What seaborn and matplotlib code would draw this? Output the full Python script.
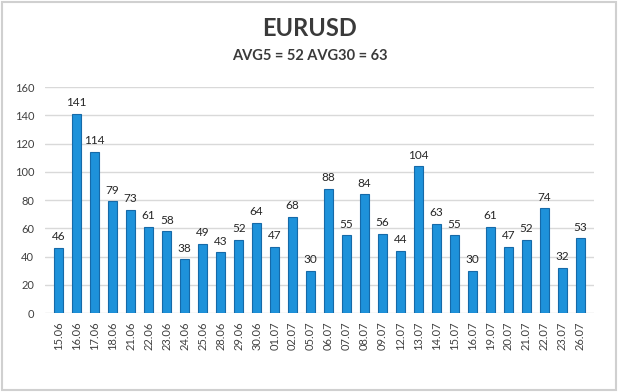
import matplotlib
matplotlib.use("Agg")
import matplotlib.pyplot as plt
import seaborn as sns
import pandas as pd
from matplotlib.patches import Rectangle

dates = ["15.06", "16.06", "17.06", "18.06", "21.06", "22.06", "23.06", "24.06", "25.06", "28.06",
         "29.06", "30.06", "01.07", "02.07", "05.07", "06.07", "07.07", "08.07", "09.07", "12.07",
         "13.07", "14.07", "15.07", "16.07", "19.07", "20.07", "21.07", "22.07", "23.07", "26.07"]
values = [46, 141, 114, 79, 73, 61, 58, 38, 49, 43,
          52, 64, 47, 68, 30, 88, 55, 84, 56, 44,
          104, 63, 55, 30, 61, 47, 52, 74, 32, 53]
title = "EURUSD"
subtitle = "AVG5 = 52 AVG30 = 63"
yticks = [0, 20, 40, 60, 80, 100, 120, 140, 160]

sns.set_theme(style="white")
plt.rcParams['font.family'] = ['Lato', 'DejaVu Sans']

df = pd.DataFrame({"date": dates, "value": values})
txt = "#404040"

fig = plt.figure(figsize=(6.2, 3.92), dpi=100)
ax = fig.add_axes([0.073, 0.2015, 0.885, 0.5765])
sns.barplot(data=df, x="date", y="value", ax=ax, color="#1E92DA", width=0.5,
            edgecolor="#166AA8", linewidth=0.8, saturation=1)
ax.set_ylim(0, 160)
ax.set_xlim(-0.75, len(dates) - 0.25)
ax.set_yticks(yticks)
ax.yaxis.grid(True, color="#D9D9D9", linewidth=1)
ax.set_axisbelow(True)
for s in ax.spines.values():
    s.set_visible(False)
ax.set_xlabel("")
ax.set_ylabel("")
ax.tick_params(axis="y", labelsize=8, colors=txt, length=0, pad=8)
ax.tick_params(axis="x", labelsize=8, colors=txt, length=0, pad=6, rotation=90)
for c in ax.containers:
    ax.bar_label(c, labels=[str(v) for v in values], padding=4, fontsize=8.5, color="#262626")

fig.text(0.5, 0.928, title, ha="center", va="center", fontsize=17, fontweight="bold", color="#3a3a3a")
fig.text(0.5, 0.858, subtitle, ha="center", va="center", fontsize=10.5, fontweight="bold", color="#3a3a3a")
fig.patches.append(Rectangle((0.003, 0.006), 0.99, 0.99, transform=fig.transFigure,
                             fill=False, edgecolor="#D0D0D0", linewidth=1.5))
fig.savefig("out.png", dpi=100)
